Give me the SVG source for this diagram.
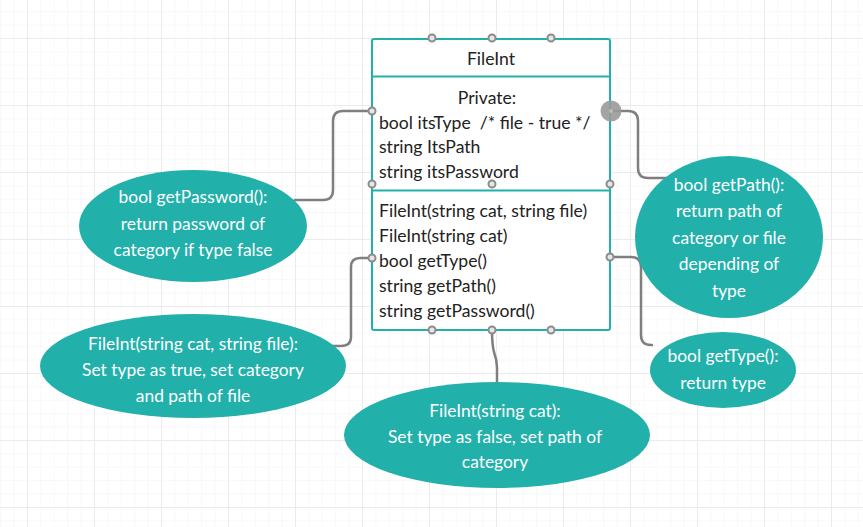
<svg xmlns="http://www.w3.org/2000/svg" width="863" height="527" viewBox="0 0 863 527">
<style>
.t{font-family:Lato,"Noto Sans","Liberation Sans",sans-serif;font-size:17.6px;fill:#222}
.w{font-family:Lato,"Noto Sans","Liberation Sans",sans-serif;font-size:17.4px;fill:#fff;text-anchor:middle}
.c{text-anchor:middle}
.ell{fill:#22b0ab}
.box{fill:#fff;stroke:#22b0ab;stroke-width:2}
.conn{fill:none;stroke:#7f7f7f;stroke-width:2.5;stroke-linecap:round}
.dot{fill:#e6e6e6;stroke:#8c8c8c;stroke-width:2}
</style>
<defs>
<pattern id="minor" patternUnits="userSpaceOnUse" x="27" y="38" width="13.4" height="13.4">
<path d="M0 0H13.4M0 0V13.4" fill="none" stroke="#f2f2f2" stroke-width="1"/>
</pattern>
<pattern id="major" patternUnits="userSpaceOnUse" x="27" y="38" width="67" height="67">
<path d="M0 0H67M0 0V67" fill="none" stroke="#e8e8e8" stroke-width="1.5"/>
</pattern>
</defs>
<rect width="863" height="527" fill="#fff"/>
<rect width="863" height="527" fill="url(#minor)"/>
<rect width="863" height="527" fill="url(#major)"/>

<g id="connectors">
<path class="conn" d="M372 111H343Q333 111 333 121V190Q333 200 323 200H295"/>
<path class="conn" d="M611 111H628Q638 111 638 121V168Q638 178 648 178H667"/>
<path class="conn" d="M611 257H631Q641 257 641 267V335Q641 345 651 345H652"/>
<path class="conn" d="M372 258H360Q351 258 351 267V337Q351 346 341 346H330"/>
<path class="conn" d="M492 330Q492 345 494 352Q497 360 497 368V382"/>
</g>

<g id="fileint">
<rect class="box" x="372" y="39" width="238" height="291" rx="2"/>
<line x1="372" y1="76.5" x2="610" y2="76.5" stroke="#22b0ab" stroke-width="2"/>
<line x1="372" y1="190.5" x2="610" y2="190.5" stroke="#22b0ab" stroke-width="2"/>
<text class="t c" x="491" y="65">FileInt</text>
<text class="t c" x="487" y="104">Private:</text>
<text class="t" x="379" y="129" xml:space="preserve">bool itsType  /* file - true */</text>
<text class="t" x="379" y="153">string ItsPath</text>
<text class="t" x="379" y="178">string itsPassword</text>
<text class="t" x="379" y="217">FileInt(string cat, string file)</text>
<text class="t" x="379" y="242">FileInt(string cat)</text>
<text class="t" x="379" y="267">bool getType()</text>
<text class="t" x="379" y="292">string getPath()</text>
<text class="t" x="379" y="317">string getPassword()</text>
<circle class="dot" cx="432" cy="38" r="3.5"/>
<circle class="dot" cx="492" cy="38" r="3.5"/>
<circle class="dot" cx="551" cy="38" r="3.5"/>
<circle class="dot" cx="432" cy="330" r="3.5"/>
<circle class="dot" cx="492" cy="330" r="3.5"/>
<circle class="dot" cx="551" cy="330" r="3.5"/>
<circle class="dot" cx="372" cy="111" r="3.5"/>
<circle class="dot" cx="372" cy="184" r="3.5"/>
<circle class="dot" cx="492" cy="184" r="3.5"/>
<circle class="dot" cx="610" cy="184" r="3.5"/>
<circle class="dot" cx="372" cy="258" r="3.5"/>
<circle class="dot" cx="610" cy="257" r="3.5"/>
<circle cx="611" cy="111" r="10.5" fill="#9a9a9a" fill-opacity="0.9"/>
<circle cx="611" cy="111" r="2" fill="#bbb"/>
</g>

<g id="getPassword">
<ellipse class="ell" cx="193" cy="226" rx="114" ry="56"/>
<text class="w" x="193" y="203">bool getPassword():</text>
<text class="w" x="193" y="230">return password of</text>
<text class="w" x="193" y="256">category if type false</text>
</g>

<g id="getPath">
<ellipse class="ell" cx="729" cy="237" rx="94" ry="81"/>
<text class="w" x="729" y="191">bool getPath():</text>
<text class="w" x="729" y="217">return path of</text>
<text class="w" x="729" y="244">category or file</text>
<text class="w" x="729" y="270">depending of</text>
<text class="w" x="729" y="297">type</text>
</g>

<g id="ctor2">
<ellipse class="ell" cx="193" cy="366" rx="153" ry="52"/>
<text class="w" x="193" y="350">FileInt(string cat, string file):</text>
<text class="w" x="193" y="376">Set type as true, set category</text>
<text class="w" x="193" y="402">and path of file</text>
</g>

<g id="ctor1">
<ellipse class="ell" cx="497" cy="435" rx="153" ry="53"/>
<text class="w" x="495" y="417">FileInt(string cat):</text>
<text class="w" x="495" y="443">Set type as false, set path of</text>
<text class="w" x="495" y="468">category</text>
</g>

<g id="getType">
<ellipse class="ell" cx="723" cy="370" rx="73" ry="38"/>
<text class="w" x="723" y="362">bool getType():</text>
<text class="w" x="723" y="389">return type</text>
</g>
</svg>
